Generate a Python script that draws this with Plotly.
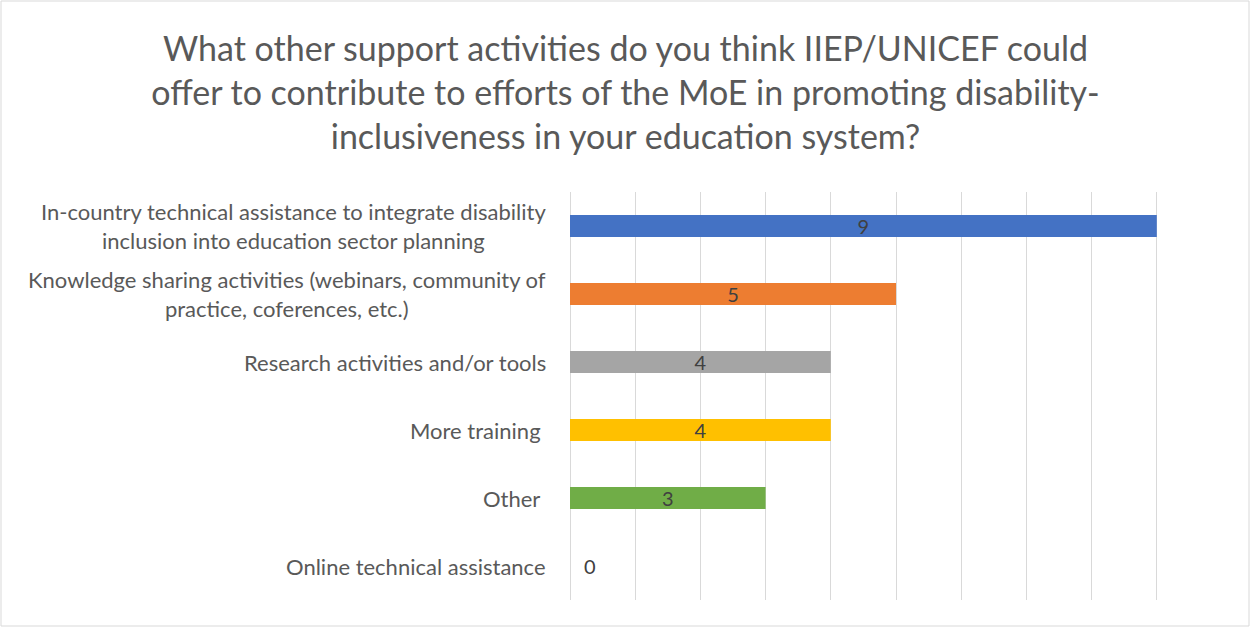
#!/usr/bin/env python3
"""Support activities bar chart (IIEP/UNICEF survey)"""

import plotly.graph_objects as go

# data
categorias = [
    'In-country technical assistance to integrate disability<br>inclusion into education sector planning',
    'Knowledge sharing activities (webinars, community of<br>practice, coferences, etc.)',
    'Research activities and/or tools',
    'More training\u00a0',
    'Other\u00a0',
    'Online technical assistance',
]
respostas = [9, 5, 4, 4, 3, 0]
cores = ['#4472C4', '#ED7D31', '#A5A5A5', '#FFC000', '#70AD47', '#5B9BD5']

titulo = ('What other support activities do you think IIEP/UNICEF could<br>'
          'offer to contribute to efforts of the MoE in promoting disability-<br>'
          'inclusiveness in your education system?')

W, H = 1251, 628
M = dict(l=570, r=29, t=192, b=28)
FONTE = 'Lato, Open Sans, sans-serif'

# barras vazias: rótulo vai numa anotação à direita do eixo
rotulos = [str(v) if v > 0 else '' for v in respostas]

fig = go.Figure()

fig.add_trace(go.Bar(
    y=categorias,
    x=respostas,
    orientation='h',
    width=0.32,
    marker=dict(color=cores, line=dict(width=0)),
    text=rotulos,
    textposition='inside',
    textangle=0,
    constraintext='none',
    insidetextanchor='middle',
    textfont=dict(family=FONTE, size=20, color='#404040'),
    cliponaxis=False,
    hoverinfo='skip',
))

# rótulos das categorias (centralizados, como no Excel)
anotacoes = []
for cat in categorias:
    anotacoes.append(dict(
        x=0, xref='paper', y=cat, yref='y',
        xanchor='right', yanchor='middle', xshift=-22,
        text=cat, showarrow=False, align='center',
        font=dict(family=FONTE, size=22, color='#595959'),
    ))

for cat, v in zip(categorias, respostas):
    if v == 0:
        anotacoes.append(dict(
            x=v, xref='x', y=cat, yref='y',
            xanchor='left', yanchor='middle', xshift=12,
            text=str(v), showarrow=False,
            font=dict(family=FONTE, size=20, color='#404040'),
        ))

pw = W - M['l'] - M['r']
ph = H - M['t'] - M['b']

fig.update_layout(
    width=W, height=H,
    margin=M,
    paper_bgcolor='white',
    plot_bgcolor='white',
    title=dict(
        text=titulo,
        x=0.5, xref='container', xanchor='center',
        y=1 - 61 / H, yref='container', yanchor='top',
        font=dict(family=FONTE, size=34, color='#595959'),
    ),
    xaxis=dict(
        range=[0, 10], dtick=1, showticklabels=False,
        showgrid=True, gridcolor='#D9D9D9', gridwidth=1,
        zeroline=True, zerolinecolor='#D9D9D9', zerolinewidth=1,
        showline=False, fixedrange=True,
    ),
    yaxis=dict(
        autorange='reversed', showticklabels=False,
        showgrid=False, zeroline=False, showline=False, fixedrange=True,
    ),
    annotations=anotacoes,
    showlegend=False,
    shapes=[dict(
        type='rect', xref='paper', yref='paper',
        x0=-(M['l'] - 1) / pw, x1=1 + (M['r'] - 2) / pw,
        y0=-(M['b'] - 2) / ph, y1=1 + (M['t'] - 1) / ph,
        line=dict(color='#D9D9D9', width=1), layer='below',
    )],
)

fig.write_html('out.html', config={'displayModeBar': False},
               post_script="document.body.style.margin='0';")
